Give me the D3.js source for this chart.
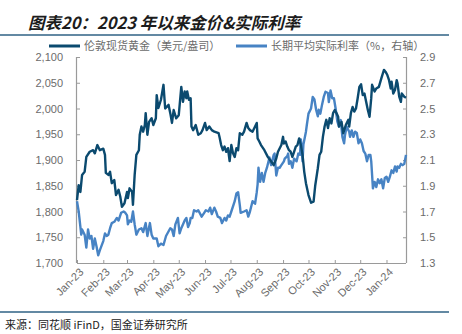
<!DOCTYPE html>
<html><head><meta charset="utf-8">
<script src="https://cdn.jsdelivr.net/npm/d3@7"></script>
<style>
html,body{margin:0;padding:0;background:#fff;}
svg{display:block;}
text{font-family:"Liberation Sans",Arial,"Noto Sans CJK SC",sans-serif;}
.cjk{font-family:"Noto Sans CJK SC","Liberation Sans",sans-serif;}
</style></head>
<body>
<script>
const titleText = "图表20：2023 年以来金价&实际利率";
const sourceText = "来源：同花顺 iFinD，国金证券研究所";
const seriesNames = ["伦敦现货黄金（美元/盎司）", "长期平均实际利率（%，右轴）"];
const xTickLabels = ["Jan-23","Feb-23","Mar-23","Apr-23","May-23","Jun-23","Jul-23","Aug-23","Sep-23","Oct-23","Nov-23","Dec-23","Jan-24"];
const leftTicks = [1700,1750,1800,1850,1900,1950,2000,2050,2100];
const rightTicks = [1.3,1.5,1.7,1.9,2.1,2.3,2.5,2.7,2.9];
const xDomain = ["2023-01-01","2024-01-24"];

const goldDates = ["2023-01-01","2023-01-03","2023-01-05","2023-01-07","2023-01-10","2023-01-12","2023-01-16","2023-01-20","2023-01-22","2023-01-25","2023-01-28","2023-02-01","2023-02-03","2023-02-04","2023-02-07","2023-02-09","2023-02-11","2023-02-14","2023-02-16","2023-02-19","2023-02-21","2023-02-23","2023-02-26","2023-03-01","2023-03-02","2023-03-04","2023-03-07","2023-03-08","2023-03-10","2023-03-12","2023-03-15","2023-03-16","2023-03-18","2023-03-20","2023-03-22","2023-03-23","2023-03-25","2023-03-27","2023-03-30","2023-04-01","2023-04-04","2023-04-05","2023-04-07","2023-04-10","2023-04-13","2023-04-15","2023-04-19","2023-04-21","2023-04-23","2023-04-25","2023-04-28","2023-05-01","2023-05-04","2023-05-06","2023-05-08","2023-05-10","2023-05-11","2023-05-13","2023-05-15","2023-05-16","2023-05-18","2023-05-21","2023-05-24","2023-05-27","2023-05-29","2023-06-01","2023-06-03","2023-06-06","2023-06-09","2023-06-12","2023-06-17","2023-06-18","2023-06-20","2023-06-22","2023-06-24","2023-06-26","2023-06-28","2023-06-30","2023-07-02","2023-07-04","2023-07-06","2023-07-08","2023-07-10","2023-07-12","2023-07-15","2023-07-17","2023-07-20","2023-07-22","2023-07-24","2023-07-27","2023-07-30","2023-08-01","2023-08-02","2023-08-04","2023-08-06","2023-08-10","2023-08-14","2023-08-18","2023-08-21","2023-08-24","2023-08-26","2023-08-30","2023-09-01","2023-09-02","2023-09-04","2023-09-06","2023-09-08","2023-09-10","2023-09-12","2023-09-14","2023-09-16","2023-09-18","2023-09-20","2023-09-22","2023-09-24","2023-09-26","2023-09-28","2023-10-01","2023-10-04","2023-10-07","2023-10-09","2023-10-12","2023-10-14","2023-10-16","2023-10-18","2023-10-20","2023-10-22","2023-10-24","2023-10-26","2023-10-28","2023-10-30","2023-11-01","2023-11-03","2023-11-05","2023-11-06","2023-11-09","2023-11-11","2023-11-14","2023-11-17","2023-11-18","2023-11-20","2023-11-22","2023-11-24","2023-11-26","2023-11-28","2023-11-30","2023-12-02","2023-12-04","2023-12-06","2023-12-08","2023-12-10","2023-12-12","2023-12-14","2023-12-15","2023-12-18","2023-12-20","2023-12-23","2023-12-26","2023-12-29","2023-12-31","2024-01-02","2024-01-04","2024-01-06","2024-01-07","2024-01-09","2024-01-11","2024-01-13","2024-01-14","2024-01-16","2024-01-18","2024-01-19","2024-01-22","2024-01-24"];
const goldValues = [1822,1851,1838,1871,1877,1906,1916,1919,1913,1929,1919,1922,1910,1875,1871,1877,1855,1861,1832,1842,1829,1809,1816,1838,1826,1845,1838,1813,1871,1910,1919,1949,1965,1955,1968,1991,1949,1974,1981,1968,1981,2026,2001,2017,2046,2000,2007,1991,1972,1997,1981,1987,2042,2013,2033,2020,2033,2017,2020,1965,1958,1968,1949,1952,1958,1972,1958,1965,1958,1955,1952,1945,1929,1919,1926,1916,1923,1898,1929,1913,1906,1923,1919,1952,1949,1955,1972,1962,1958,1955,1965,1972,1942,1936,1929,1919,1906,1897,1890,1903,1916,1929,1945,1932,1936,1926,1919,1916,1906,1916,1926,1929,1942,1929,1910,1877,1855,1832,1817,1819,1851,1884,1910,1916,1945,1965,1978,1962,1981,1971,1991,1997,1991,1984,1965,1974,1952,1968,1978,1965,1991,2003,1994,2000,2020,2042,2047,2026,2029,2013,1997,1984,2020,2046,2033,2039,2042,2059,2075,2071,2065,2055,2039,2052,2029,2036,2055,2049,2023,2013,2029,2023,2021];

const rateDates = ["2023-01-01","2023-01-03","2023-01-06","2023-01-07","2023-01-10","2023-01-12","2023-01-14","2023-01-16","2023-01-18","2023-01-20","2023-01-22","2023-01-24","2023-01-26","2023-01-28","2023-02-01","2023-02-03","2023-02-05","2023-02-07","2023-02-09","2023-02-11","2023-02-14","2023-02-17","2023-02-19","2023-02-22","2023-02-25","2023-02-27","2023-03-01","2023-03-02","2023-03-04","2023-03-06","2023-03-08","2023-03-10","2023-03-12","2023-03-15","2023-03-18","2023-03-20","2023-03-23","2023-03-25","2023-03-28","2023-03-30","2023-04-01","2023-04-05","2023-04-07","2023-04-10","2023-04-13","2023-04-16","2023-04-21","2023-04-23","2023-04-25","2023-04-27","2023-04-30","2023-05-02","2023-05-04","2023-05-08","2023-05-10","2023-05-12","2023-05-14","2023-05-15","2023-05-17","2023-05-19","2023-05-22","2023-05-24","2023-05-28","2023-05-31","2023-06-02","2023-06-05","2023-06-07","2023-06-09","2023-06-12","2023-06-14","2023-06-16","2023-06-19","2023-06-21","2023-06-24","2023-06-26","2023-06-28","2023-06-30","2023-07-02","2023-07-06","2023-07-08","2023-07-10","2023-07-12","2023-07-13","2023-07-17","2023-07-20","2023-07-22","2023-07-24","2023-07-27","2023-07-30","2023-08-01","2023-08-02","2023-08-03","2023-08-05","2023-08-07","2023-08-09","2023-08-11","2023-08-13","2023-08-16","2023-08-18","2023-08-21","2023-08-22","2023-08-24","2023-08-26","2023-08-28","2023-08-30","2023-09-02","2023-09-03","2023-09-06","2023-09-07","2023-09-08","2023-09-10","2023-09-12","2023-09-14","2023-09-17","2023-09-19","2023-09-21","2023-09-22","2023-09-23","2023-09-24","2023-09-25","2023-09-28","2023-09-29","2023-10-01","2023-10-04","2023-10-06","2023-10-08","2023-10-10","2023-10-12","2023-10-13","2023-10-15","2023-10-17","2023-10-19","2023-10-21","2023-10-24","2023-10-25","2023-10-27","2023-10-29","2023-10-31","2023-11-02","2023-11-04","2023-11-06","2023-11-08","2023-11-10","2023-11-12","2023-11-13","2023-11-15","2023-11-18","2023-11-19","2023-11-21","2023-11-23","2023-11-25","2023-11-27","2023-11-29","2023-12-01","2023-12-03","2023-12-05","2023-12-07","2023-12-09","2023-12-11","2023-12-13","2023-12-14","2023-12-16","2023-12-18","2023-12-20","2023-12-22","2023-12-24","2023-12-26","2023-12-28","2023-12-30","2024-01-01","2024-01-03","2024-01-05","2024-01-07","2024-01-09","2024-01-11","2024-01-13","2024-01-14","2024-01-16","2024-01-18","2024-01-20","2024-01-22","2024-01-24"];
const rateValues = [1.78,1.70,1.52,1.56,1.52,1.42,1.56,1.49,1.51,1.41,1.49,1.43,1.36,1.40,1.47,1.53,1.51,1.52,1.57,1.61,1.62,1.65,1.63,1.69,1.70,1.69,1.67,1.60,1.63,1.62,1.70,1.60,1.52,1.56,1.57,1.54,1.61,1.51,1.61,1.52,1.49,1.49,1.43,1.45,1.44,1.51,1.57,1.56,1.51,1.60,1.65,1.53,1.57,1.63,1.65,1.58,1.61,1.65,1.65,1.71,1.70,1.71,1.66,1.69,1.71,1.70,1.73,1.68,1.73,1.70,1.66,1.65,1.61,1.65,1.63,1.67,1.66,1.70,1.78,1.84,1.85,1.75,1.69,1.70,1.71,1.66,1.70,1.78,1.76,1.85,1.91,2.04,1.93,2.00,1.93,2.00,2.04,2.12,2.06,2.14,2.15,1.98,2.04,2.04,2.06,2.09,2.11,2.13,2.15,2.07,2.09,2.04,2.11,2.09,2.15,2.14,2.26,2.18,2.09,2.22,2.32,2.37,2.46,2.50,2.59,2.57,2.49,2.44,2.49,2.46,2.53,2.59,2.63,2.62,2.55,2.64,2.58,2.58,2.50,2.40,2.36,2.41,2.28,2.23,2.29,2.36,2.32,2.28,2.33,2.28,2.32,2.31,2.23,2.26,2.23,2.17,2.15,2.09,2.14,2.14,2.09,1.88,1.93,1.89,1.95,1.92,1.95,1.88,1.96,1.97,1.93,1.97,2.02,2.00,2.05,2.01,2.05,2.04,2.07,2.06,2.07,2.14];

const W = 462, H = 334;
const M = {left: 77, right: 406, top: 57, bottom: 263};
const darkBlue = "#0b4a6f", lightBlue = "#4783c4", axisGray = "#9a9a9a", labelGray = "#6b6b6b", ruleColor = "#2f6285";

const svg = d3.select("body").append("svg").attr("width", W).attr("height", H);
const parse = d3.timeParse("%Y-%m-%d");

const x = d3.scaleTime().domain(xDomain.map(parse)).range([M.left, M.right]);
const yL = d3.scaleLinear().domain([leftTicks[0], leftTicks[leftTicks.length-1]]).range([M.bottom, M.top]);
const yR = d3.scaleLinear().domain([rightTicks[0], rightTicks[rightTicks.length-1]]).range([M.bottom, M.top]);

// title
svg.append("text").attr("class","cjk").attr("x", 28).attr("y", 29)
  .attr("font-size", 16.5).attr("font-weight", 700).attr("font-style", "italic")
  .attr("fill", "#1c1c1c").text(titleText);
svg.append("line").attr("x1", 0).attr("x2", 449).attr("y1", 35).attr("y2", 35)
  .attr("stroke", ruleColor).attr("stroke-width", 1.5);
svg.append("line").attr("x1", 0).attr("x2", 449).attr("y1", 312).attr("y2", 312)
  .attr("stroke", ruleColor).attr("stroke-width", 1.5);
svg.append("text").attr("class","cjk").attr("x", 5).attr("y", 329)
  .attr("font-size", 11).attr("fill", "#222").text(sourceText);

// legend
const legend = [{x: 49, color: darkBlue, name: seriesNames[0]}, {x: 236, color: lightBlue, name: seriesNames[1]}];
legend.forEach(l => {
  svg.append("line").attr("x1", l.x).attr("x2", l.x + 31).attr("y1", 46).attr("y2", 46)
    .attr("stroke", l.color).attr("stroke-width", 3);
  svg.append("text").attr("class","cjk").attr("x", l.x + 35).attr("y", 50)
    .attr("font-size", 11).attr("fill", labelGray).text(l.name);
});

// axes
const leftAxis = d3.axisLeft(yL).tickValues(leftTicks).tickSize(-3).tickPadding(14).tickFormat(d3.format(","));
const gL = svg.append("g").attr("transform", `translate(${M.left},0)`).call(leftAxis);
const rightAxis = d3.axisRight(yR).tickValues(rightTicks).tickSize(-3).tickPadding(14).tickFormat(d3.format(".1f"));
const gR = svg.append("g").attr("transform", `translate(${M.right},0)`).call(rightAxis);
const monthTicks = d3.timeMonth.range(parse("2023-01-01"), parse("2024-01-02"));
const bottomAxis = d3.axisBottom(x).tickValues(monthTicks).tickSize(-3).tickFormat((d,i) => xTickLabels[i]);
const gB = svg.append("g").attr("transform", `translate(0,${M.bottom})`).call(bottomAxis);

[gL, gR, gB].forEach(g => {
  g.select(".domain").attr("stroke", axisGray).attr("stroke-width", 1.2);
  g.selectAll(".tick line").attr("stroke", axisGray).attr("stroke-width", 1);
  g.selectAll(".tick text").attr("fill", labelGray).attr("font-size", 11)
    .attr("font-family", "Liberation Sans, Arial, sans-serif");
});
gL.select(".domain").attr("d", `M-0.5,${M.top}V${M.bottom}`);
gR.select(".domain").attr("d", `M0.5,${M.top}V${M.bottom}`);
gB.select(".domain").attr("d", `M${M.left},0.5H${M.right}`);
gB.selectAll(".tick text")
  .attr("text-anchor", "end")
  .attr("transform", "translate(4,7) rotate(-45)")
  .attr("dy", "0.35em").attr("y", 0).attr("x", 0);

// lines
const goldData = goldDates.map((d,i) => ({date: parse(d), v: goldValues[i]}));
const rateData = rateDates.map((d,i) => ({date: parse(d), v: rateValues[i]}));
svg.append("path").datum(rateData)
  .attr("fill","none").attr("stroke", lightBlue).attr("stroke-width", 2.4).attr("stroke-linejoin","round")
  .attr("d", d3.line().x(d => x(d.date)).y(d => yR(d.v)));
svg.append("path").datum(goldData)
  .attr("fill","none").attr("stroke", darkBlue).attr("stroke-width", 2.4).attr("stroke-linejoin","round")
  .attr("d", d3.line().x(d => x(d.date)).y(d => yL(d.v)));
</script>
</body></html>
